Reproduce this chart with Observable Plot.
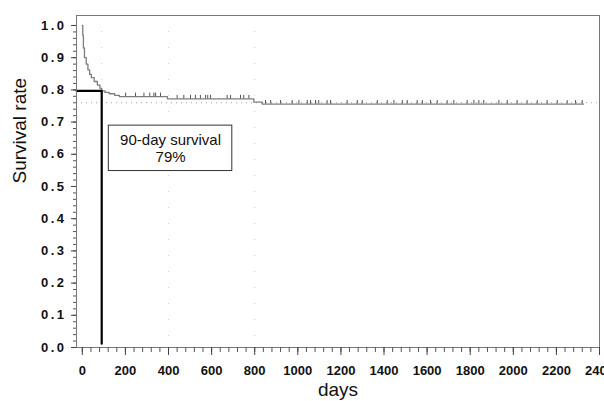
<!DOCTYPE html>
<html><head><meta charset="utf-8">
<script src="https://cdn.jsdelivr.net/npm/d3@7"></script>
<script src="https://cdn.jsdelivr.net/npm/@observablehq/plot@0.6"></script>
<style>
html,body{margin:0;padding:0;background:#fff;}
#chart svg{display:block;}
</style></head><body><div id="chart"></div>
<script>
// Kaplan–Meier steps (day, survival after the step)
const eventDays = [0, 2, 5, 10, 18, 26, 34, 42, 55, 70, 82, 90, 105, 125, 150, 172, 395, 796, 835];
const survival  = [1.0, 0.97, 0.93, 0.90, 0.88, 0.862, 0.848, 0.838, 0.826, 0.815, 0.805, 0.797, 0.792, 0.788, 0.783, 0.779, 0.772, 0.762, 0.756];
const lastFollowUp = 2326;
// censored observations (days)
const censorDays = [201, 247, 286, 313, 332, 340, 363, 440, 471, 502, 525, 548, 572, 582, 595, 672, 688, 734, 749, 773,
  850, 874, 920, 974, 1005, 1044, 1059, 1082, 1097, 1136, 1152, 1229, 1276, 1299, 1369, 1415, 1446, 1485, 1508, 1554,
  1578, 1616, 1647, 1693, 1724, 1786, 1817, 1840, 1863, 1933, 1972, 2018, 2064, 2111, 2157, 2204, 2250, 2289, 2320];
const xTicks = [0, 200, 400, 600, 800, 1000, 1200, 1400, 1600, 1800, 2000, 2200, 2400];
const yTicks = [0, 0.1, 0.2, 0.3, 0.4, 0.5, 0.6, 0.7, 0.8, 0.9, 1.0];
const refDay = 90;
const refSurvival = 0.797;
const plateauLevel = 0.76;
const gridDays = [90, 400, 800];
const annotationLines = ["90-day survival", "79%"];
const annotationBox = {x1: 123, x2: 696, y1: 0.548, y2: 0.689};

const xDomain = [-27, 2400];
const yDomain = [0, 1.031];

const survAt = d => survival[d3.bisectRight(eventDays, d) - 1];
const curve = eventDays.map((d, i) => ({day: d, s: survival[i]}));
curve.push({day: lastFollowUp, s: survival[survival.length - 1]});
const censors = censorDays.map(d => ({day: d, s: survAt(d)}));
const refLine = [
  {day: xDomain[0], s: refSurvival},
  {day: refDay, s: refSurvival},
  {day: refDay, s: 0.012}
];
const minorX = d3.range(0, 2401, 40);
const minorY = d3.range(0, 51).map(i => +(i * 0.02).toFixed(2));

const numFont = "'Liberation Sans Narrow', 'Liberation Sans', Arial, sans-serif";
const txtFont = "'Liberation Sans', Arial, sans-serif";

const chart = Plot.plot({
  width: 604,
  height: 401,
  marginLeft: 76,
  marginRight: 5,
  marginTop: 15,
  marginBottom: 54,
  style: {background: "#fff", overflow: "visible"},
  x: {domain: xDomain},
  y: {domain: yDomain},
  marks: [
    Plot.ruleX(gridDays, {stroke: "#d4d4d4", strokeWidth: 1, strokeDasharray: "1,15"}),
    Plot.ruleY([plateauLevel], {stroke: "#a0a0a0", strokeWidth: 1, strokeDasharray: "1,4"}),
    Plot.line(curve, {x: "day", y: "s", curve: "step-after", stroke: "#7d7d7d", strokeWidth: 1.3}),
    Plot.ruleX(censors, {x: "day", y1: "s", y2: d => d.s + 0.011, stroke: "#555", strokeWidth: 1}),
    Plot.line(refLine, {x: "day", y: "s", stroke: "#000", strokeWidth: 2.2}),
    Plot.rect([annotationBox], {x1: "x1", x2: "x2", y1: "y1", y2: "y2", fill: "#fff", stroke: "#333", strokeWidth: 1}),
    Plot.text([annotationLines.join("\n")], {
      x: (annotationBox.x1 + annotationBox.x2) / 2,
      y: (annotationBox.y1 + annotationBox.y2) / 2,
      text: d => d, lineHeight: 1.13, fontSize: 15, fontFamily: txtFont, fill: "#111"
    }),
    Plot.frame({stroke: "#777", strokeWidth: 1}),
    Plot.axisX(minorX, {tickSize: 5, tickFormat: () => "", stroke: "#555"}),
    Plot.axisX(xTicks, {tickSize: 8, tickPadding: 10, tickFormat: d => String(d), stroke: "#444",
      fontSize: 13, fontWeight: "bold", fontFamily: numFont, fill: "#111", label: null}),
    Plot.axisY(minorY, {tickSize: 3, tickFormat: () => "", stroke: "#555"}),
    Plot.axisY(yTicks, {tickSize: 5, tickPadding: 5, tickFormat: d3.format(".1f"), stroke: "#444",
      fontSize: 13, fontWeight: "bold", fontFamily: numFont, fill: "#111", label: null}),
    Plot.text(["Survival rate"], {frameAnchor: "left", dx: -57, dy: 2, rotate: -90, text: d => d,
      fontSize: 19, fontFamily: txtFont, fill: "#111"}),
    Plot.text(["days"], {frameAnchor: "bottom", dy: 48, text: d => d,
      fontSize: 19, fontFamily: txtFont, fill: "#111"})
  ]
});
chart.querySelectorAll("g[aria-label='y-axis tick label'] text").forEach(t => t.style.letterSpacing = "2.5px");
document.getElementById("chart").appendChild(chart);
</script>
</body></html>
